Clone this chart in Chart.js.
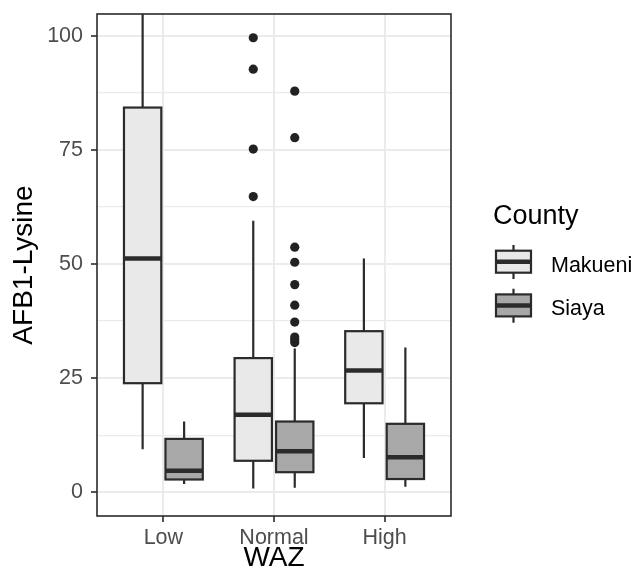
<!DOCTYPE html>
<html>
<head>
<meta charset="utf-8">
<script src="https://cdn.jsdelivr.net/npm/chart.js@4/dist/chart.umd.min.js"></script>
<style>
  html, body { margin: 0; padding: 0; background: #fff; }
  #wrap { width: 637px; height: 579px; position: relative; }
</style>
</head>
<body>
<div id="wrap"><canvas id="chart"></canvas></div>
<script>
// WAZ groups on the x axis, one box per county in each
const categories = ["Low", "Normal", "High"];
const counties = ["Makueni", "Siaya"];

// five-number summaries (whisker ends, quartiles, median)
const makueniLow    = [9.4, 0.8, 7.5];
const makueniQ1     = [23.9, 6.9, 19.5];
const makueniMedian = [51.2, 17.0, 26.7];
const makueniQ3     = [84.3, 29.4, 35.3];
const makueniHigh   = [121, 59.5, 51.2];   // Low whisker runs past the panel top

const siayaLow    = [1.8, 1.0, 1.2];
const siayaQ1     = [2.8, 4.4, 2.9];
const siayaMedian = [4.7, 9.0, 7.7];
const siayaQ3     = [11.7, 15.5, 15.0];
const siayaHigh   = [15.5, 31.5, 31.7];

// outliers per category
const makueniOutliers = [[], [99.6, 92.7, 75.2, 64.8], []];
const siayaOutliers   = [[], [87.9, 77.7, 53.7, 50.4, 45.5, 41.0, 37.3, 34.0, 33.4, 32.8], []];

const yTicks = [0, 12.5, 25, 37.5, 50, 62.5, 75, 87.5, 100];

const FILLS = { Makueni: "#E9E9E9", Siaya: "#A8A8A8" };
const LINE = "#2B2B2B";
const DODGE = 0.1875;     // half of dodge width 0.75 / 2
const BOX_W = 0.3375;
const FONT = "'Liberation Sans', Arial, sans-serif";

const stats = {
    Makueni: { lo: makueniLow, q1: makueniQ1, med: makueniMedian, q3: makueniQ3, hi: makueniHigh, out: makueniOutliers },
    Siaya:   { lo: siayaLow,   q1: siayaQ1,   med: siayaMedian,   q3: siayaQ3,   hi: siayaHigh,   out: siayaOutliers },
};
const offsetFor = county => (county === "Makueni" ? -DODGE : DODGE);

function drawBox(ctx, cx, half, yTop, yBot, yMed, yWhiskTop, yWhiskBot, fill) {
    ctx.strokeStyle = LINE;
    ctx.lineWidth = 2.2;
    ctx.beginPath();
    ctx.moveTo(cx, yWhiskTop); ctx.lineTo(cx, yTop);
    ctx.moveTo(cx, yBot); ctx.lineTo(cx, yWhiskBot);
    ctx.stroke();
    ctx.fillStyle = fill;
    ctx.fillRect(cx - half, yTop, half * 2, yBot - yTop);
    ctx.strokeRect(cx - half, yTop, half * 2, yBot - yTop);
    ctx.lineWidth = 4.5;
    ctx.beginPath();
    ctx.moveTo(cx - half, yMed); ctx.lineTo(cx + half, yMed);
    ctx.stroke();
}

const boxPlugin = {
    id: "boxes",
    beforeDatasetsDraw(chart) {
        const { ctx, chartArea, scales: { x, y } } = chart;
        ctx.save();
        ctx.beginPath();
        ctx.rect(chartArea.left, chartArea.top, chartArea.right - chartArea.left, chartArea.bottom - chartArea.top);
        ctx.clip();
        const half = (x.getPixelForValue(BOX_W) - x.getPixelForValue(0)) / 2;
        counties.forEach(county => {
            const s = stats[county];
            categories.forEach((cat, i) => {
                const cx = x.getPixelForValue(i + 1 + offsetFor(county));
                drawBox(ctx, cx, half,
                    y.getPixelForValue(s.q3[i]), y.getPixelForValue(s.q1[i]),
                    y.getPixelForValue(s.med[i]),
                    y.getPixelForValue(s.hi[i]), y.getPixelForValue(s.lo[i]),
                    FILLS[county]);
            });
        });
        ctx.restore();
    },
    afterDatasetsDraw(chart) {
        const { ctx, chartArea } = chart;
        ctx.save();
        ctx.strokeStyle = LINE;
        ctx.lineWidth = 1.6;
        ctx.strokeRect(chartArea.left, chartArea.top, chartArea.right - chartArea.left, chartArea.bottom - chartArea.top);
        ctx.restore();
    },
    afterDraw(chart) {
        // ggplot-style legend with little boxplot keys
        const { ctx } = chart;
        ctx.save();
        ctx.fillStyle = "#000";
        ctx.font = "27px " + FONT;
        ctx.textBaseline = "alphabetic";
        ctx.fillText("County", 493, 224);
        const keyX = 496, keyW = 35;
        counties.forEach((county, k) => {
            const top = 245 + k * 43.7;
            const cx = keyX + keyW / 2;
            drawBox(ctx, cx, keyW / 2, top + 5.7, top + 27.7, top + 16.7, top, top + 34, FILLS[county]);
            ctx.fillStyle = "#000";
            ctx.font = "21.5px " + FONT;
            ctx.fillText(county, 551, top + 26.7);
        });
        ctx.restore();
    },
};

// outliers as scatter points
const outlierData = [];
counties.forEach(county => {
    stats[county].out.forEach((vals, i) => {
        vals.forEach(v => outlierData.push({ x: i + 1 + offsetFor(county), y: v }));
    });
});

new Chart(document.getElementById("chart"), {
    type: "scatter",
    data: {
        datasets: [{
            label: "outliers",
            data: outlierData,
            pointRadius: 4.6,
            pointBackgroundColor: "#222222",
            pointBorderWidth: 0,
        }],
    },
    options: {
        responsive: true,
        maintainAspectRatio: false,
        animation: false,
        layout: { padding: { top: 14, right: 186, left: 0, bottom: 0 } },
        plugins: { legend: { display: false }, tooltip: { enabled: false } },
        scales: {
            x: {
                type: "linear",
                min: 0.4,
                max: 3.6,
                afterBuildTicks: scale => { scale.ticks = categories.map((c, i) => ({ value: i + 1 })); },
                afterFit: scale => { scale.height = 63; scale.paddingLeft = 0; scale.paddingRight = 0; },
                ticks: {
                    callback: v => categories[v - 1],
                    color: "#4D4D4D",
                    font: { family: FONT, size: 21.5 },
                    padding: 3,
                    maxRotation: 0,
                },
                grid: { color: "#EBEBEB", lineWidth: 2, tickColor: LINE, tickLength: 6, tickWidth: 1.6 },
                border: { display: false },
                title: {
                    display: true,
                    text: "WAZ",
                    color: "#000",
                    font: { family: FONT, size: 28 },
                    padding: { top: 0, bottom: 4 },
                },
            },
            y: {
                min: -5.2,
                max: 104.8,
                afterBuildTicks: scale => { scale.ticks = yTicks.map(v => ({ value: v })); },
                afterFit: scale => { scale.width = 97; scale.paddingTop = 0; scale.paddingBottom = 0; },
                ticks: {
                    callback: v => (v % 25 === 0 ? String(v) : ""),
                    color: "#4D4D4D",
                    font: { family: FONT, size: 21.5 },
                    padding: 8,
                },
                grid: {
                    color: "#EBEBEB",
                    lineWidth: c => (c.tick && c.tick.value % 25 === 0 ? 2 : 1.3),
                    tickColor: c => (c.tick && c.tick.value % 25 === 0 ? LINE : "rgba(0,0,0,0)"),
                    tickLength: 6,
                    tickWidth: 1.6,
                },
                border: { display: false },
                title: {
                    display: true,
                    text: "AFB1-Lysine",
                    color: "#000",
                    font: { family: FONT, size: 28 },
                    padding: { top: 7, bottom: 0 },
                },
            },
        },
    },
    plugins: [boxPlugin],
});
</script>
</body>
</html>
